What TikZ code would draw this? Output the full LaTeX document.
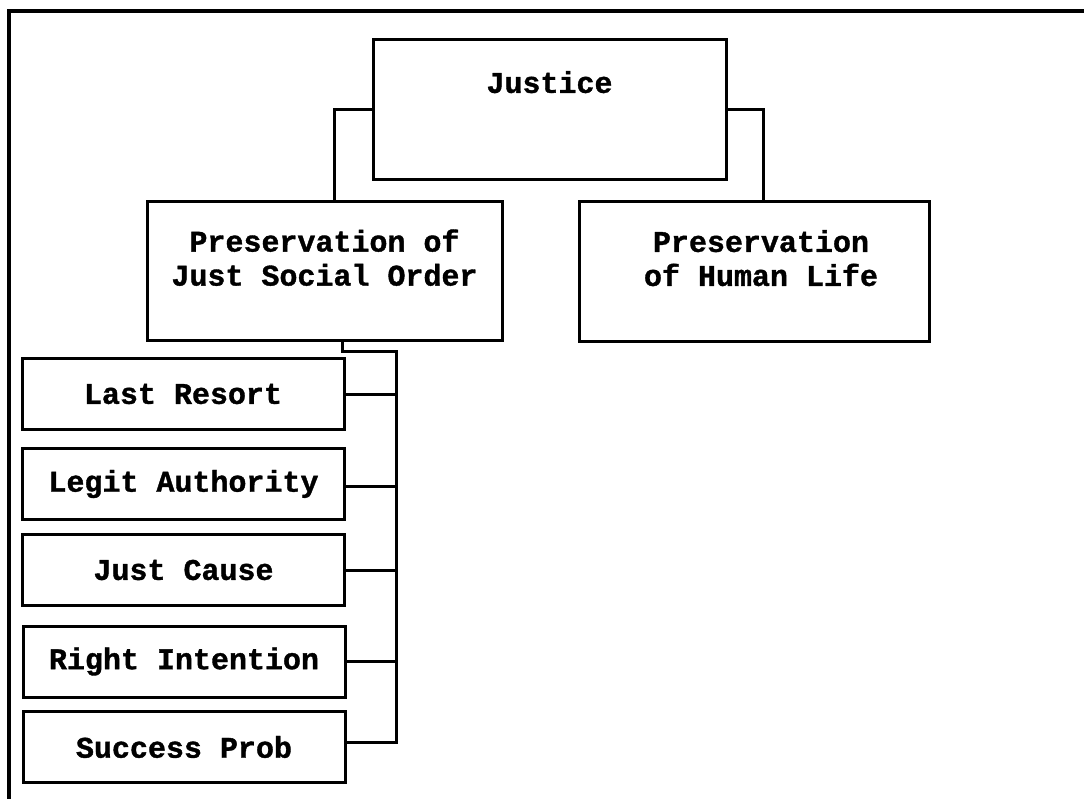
\documentclass[tikz,border=0pt]{standalone}
\usepackage{fontspec}
\newfontfamily\boxfont{Liberation Mono Bold}[FakeBold=1.2]
\begin{document}
\begin{tikzpicture}[x=1pt, y=-1pt,
  labelfont/.style={font=\boxfont\fontsize{30}{34}\selectfont},
  bigbox/.style={draw, line width=3pt, inner sep=0pt, align=center, labelfont},
  itembox/.style={draw, line width=3pt, inner sep=0pt, align=center,
    minimum width=322pt, minimum height=71pt, labelfont},
  link/.style={line width=3pt}
]
\useasboundingbox (0,0) rectangle (1084,799);

% page frame: top rule and left rule
\coordinate (frameBL) at (9,799);
\coordinate (frameTL) at (9,11);
\coordinate (frameTR) at (1084,11);
\draw[line width=4.5pt] (frameBL) -- (frameTL) -- (frameTR);

% top level
\node[bigbox, minimum width=353pt, minimum height=140pt] (just) at (549.5,110) {Justice\\[22pt]\mbox{}};

% second level
\node[bigbox, minimum width=355pt, minimum height=139pt] (pl) at (324.5,271.5)
  {Preservation of\\Just Social Order\\[-6pt]\mbox{}};
\node[bigbox, minimum width=350pt, minimum height=140pt] (pr) at (754,272)
  {\hspace*{14pt}Preservation\\\hspace*{14pt}of Human Life\\[-6pt]\mbox{}};

% criteria
\node[itembox] (lr) at (183,394) {Last Resort};
\node[itembox] (la) at (183.5,484) {Legit Authority};
\node[itembox] (jc) at (183.5,570) {Just Cause};
\node[itembox] (ri) at (184,661.5) {Right Intention};
\node[itembox] (sp) at (184,747) {Success Prob};

% connectors from the top box
\draw[link] (just.west) -| ([xshift=9.5pt]pl.north);
\draw[link] (just.east) -| ([xshift=9pt]pr.north);

% bus from the left second-level box down to the criteria
\coordinate (busTop) at (396,352);
\coordinate (spStub) at ([yshift=5pt]sp.east);
\draw[link] ([xshift=17.5pt]pl.south) |- (busTop) -- (busTop |- spStub) -- (spStub);
\draw[link] (lr.east) -- (lr.east -| busTop);
\draw[link] ([yshift=-2pt]la.east) -- ([yshift=-2pt]la.east -| busTop);
\draw[link] (jc.east) -- (jc.east -| busTop);
\draw[link] (ri.east) -- (ri.east -| busTop);
\end{tikzpicture}
\end{document}
